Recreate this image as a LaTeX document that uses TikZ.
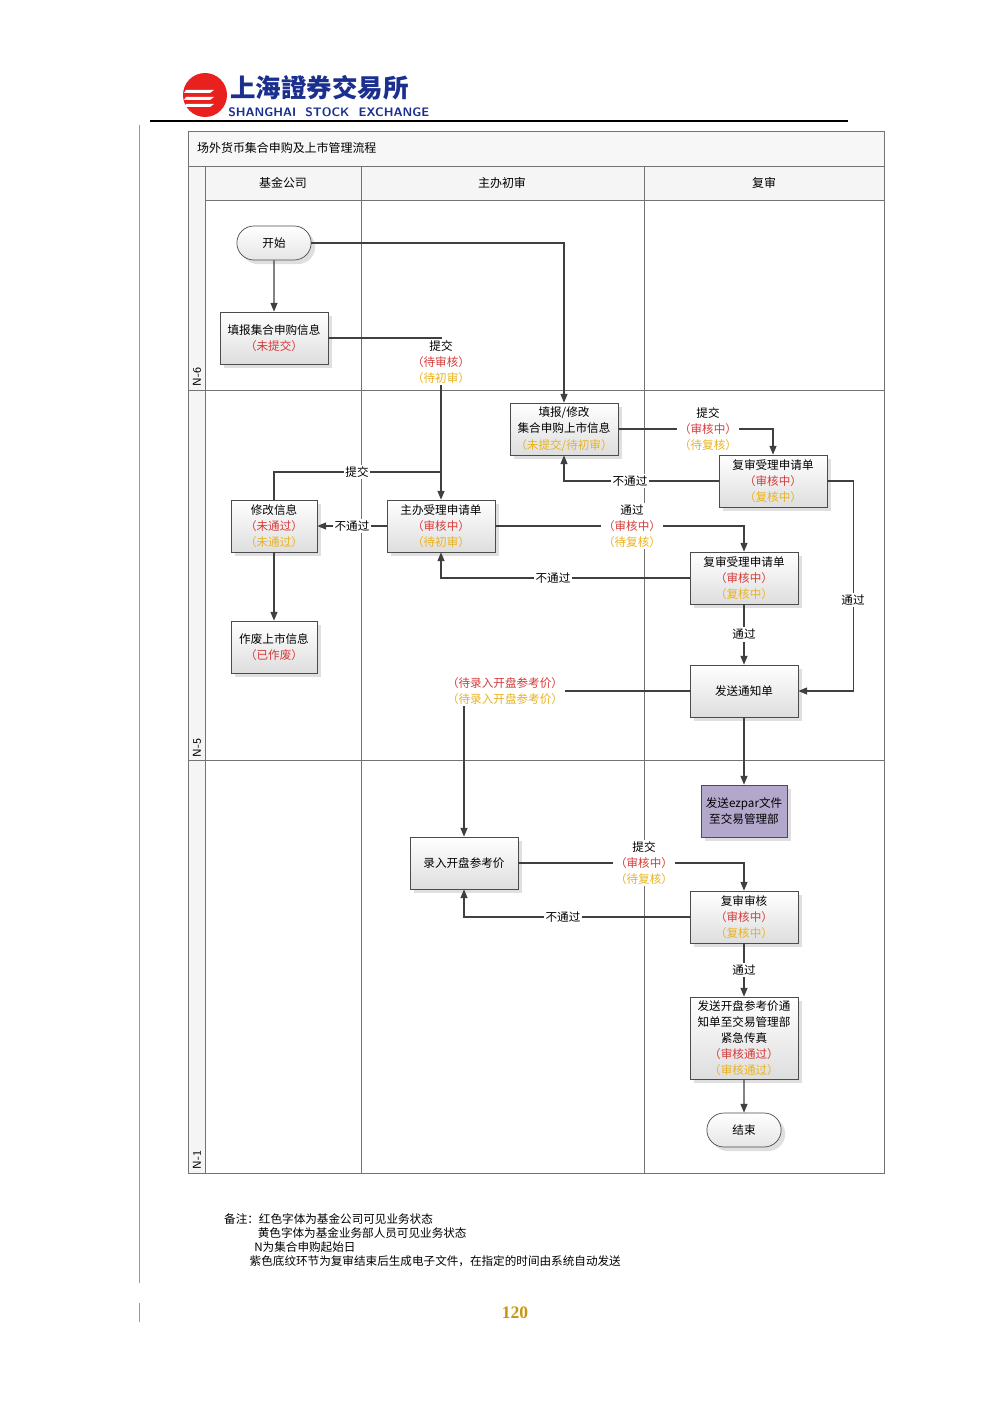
\documentclass[tikz,border=0pt]{standalone}
\usepackage{fontspec}
\setmainfont{Liberation Serif}
\newfontfamily\cjk{Noto Sans CJK SC}
\usepackage{tikz}
\usetikzlibrary{positioning,shadows,shapes.misc,arrows.meta}
\definecolor{stred}{HTML}{D63A3A}
\definecolor{styel}{HTML}{E9B21E}
\definecolor{logored}{HTML}{E8201E}
\definecolor{logoblue}{HTML}{1B2F8F}
\definecolor{ezpurple}{HTML}{B3A8CC}
\definecolor{pagegold}{HTML}{C8960C}
\tikzset{
  proc/.style={draw=black!70, top color=white, bottom color=black!13, minimum width=2.16cm, minimum height=1.04cm,
    align=center, font=\cjk\fontsize{6.6}{9.2}\selectfont, inner sep=1pt, drop shadow={opacity=.25}},
  term/.style={draw=black!70, rounded rectangle, top color=white, bottom color=black!10, minimum width=1.72cm,
    minimum height=.68cm, font=\cjk\fontsize{6.6}{9.2}\selectfont, drop shadow={opacity=.25}},
  lbl/.style={fill=white, inner sep=1pt, align=center, font=\cjk\fontsize{6.6}{9.2}\selectfont},
  lane/.style={draw=black!55, line width=.5pt},
  flow/.style={draw=black!75, line width=.6pt, -{Triangle[length=5pt,width=4pt]}},
}
\newcommand{\rd}[1]{\textcolor{stred}{（#1）}}
\newcommand{\yl}[1]{\textcolor{styel}{（#1）}}

\begin{document}
\begin{tikzpicture}[x=0.02cm, y=-0.02cm]
\useasboundingbox (0,0) rectangle (1000,1415);

% Header with logo
\fill[logored] (205,95) circle (22);
\foreach \yy in {90,97,104} \fill[white] (186,\yy) -- (214,\yy) -- (210,\yy+3) -- (184,\yy+3) -- cycle;
\node[anchor=west, text=logoblue, font=\cjk\bfseries\fontsize{14.5}{15}\selectfont, inner sep=0] (logocn) at (230,88) {上海證券交易所};
\node[anchor=west, text=logoblue, font=\sffamily\bfseries\fontsize{7}{8}\selectfont, inner sep=0] (logoen) at (228,112) {SHANGHAI\ \ STOCK\ \ EXCHANGE};
\draw[line width=1pt] (150,121) -- (848,121);
\draw[black!40] (139,125) -- (139,1283);
\draw[black!40] (139,1303) -- (139,1322);

% Swimlane frame
\draw[lane, fill=black!3] (188,131) rectangle (884,166);
\draw[lane, fill=black!4] (205,166) rectangle (884,200);
\draw[lane, fill=black!4] (188,166) rectangle (205,1173);
\draw[lane] (188,131) rectangle (884,1173);
\draw[lane] (205,200) -- (205,1173);
\draw[lane] (361,166) -- (361,1173);
\draw[lane] (644,166) -- (644,1173);
\draw[lane] (188,390) -- (884,390);
\draw[lane] (188,760) -- (884,760);
\node[anchor=west, font=\cjk\fontsize{6.8}{8}\selectfont] (ttl) at (191,148) {场外货币集合申购及上市管理流程};
\node[font=\cjk\fontsize{6.8}{8}\selectfont] (h1) at (283,183) {基金公司};
\node[font=\cjk\fontsize{6.8}{8}\selectfont] (h2) at (502,183) {主办初审};
\node[font=\cjk\fontsize{6.8}{8}\selectfont] (h3) at (764,183) {复审};
\node[rotate=90, font=\sffamily\fontsize{6.5}{7}\selectfont] (n6) at (197,377) {N-6};
\node[rotate=90, font=\sffamily\fontsize{6.5}{7}\selectfont] (n5) at (197,748) {N-5};
\node[rotate=90, font=\sffamily\fontsize{6.5}{7}\selectfont] (n1) at (197,1160) {N-1};

% Process boxes
\node[term] (start) at (274,243) {开始};
\node[proc] (fillin) at (274,338) {填报集合申购信息\\\rd{未提交}};
\node[proc] (edit) at (564,429) {填报/修改\\集合申购上市信息\\\yl{未提交/待初审}};
\node[proc] (recheckA) at (773,481) {复审受理申请单\\\rd{审核中}\\\yl{复核中}};
\node[proc, minimum width=1.72cm] (modify) at (274,526) {修改信息\\\rd{未通过}\\\yl{未通过}};
\node[proc] (accept) at (441,526) {主办受理申请单\\\rd{审核中}\\\yl{待初审}};
\node[proc] (recheckB) at (744,578) {复审受理申请单\\\rd{审核中}\\\yl{复核中}};
\node[proc, minimum width=1.72cm] (cancel) at (274,647) {作废上市信息\\\rd{已作废}};
\node[proc] (notice) at (744,691) {发送通知单};
\node[proc, minimum width=1.72cm, top color=ezpurple, bottom color=ezpurple] (ezpar) at (744,811) {发送ezpar文件\\至交易管理部};
\node[proc] (price) at (464,863) {录入开盘参考价};
\node[proc] (final) at (744,917) {复审审核\\\rd{审核中}\\\yl{复核中}};
\node[proc, minimum height=1.64cm] (fax) at (744,1038) {发送开盘参考价通\\知单至交易管理部\\紧急传真\\\rd{审核通过}\\\yl{审核通过}};
\node[term] (stop) at (744,1130) {结束};

% Connectors
\draw[flow] (start) -- (fillin);
\draw[flow] (start.east) -| (edit.north);
\draw[flow] (fillin.east) -| (accept.north);
\node[lbl] (l1) at (441,362) {提交\\\rd{待审核}\\\yl{待初审}};
\draw[flow, -] (modify.north) |- (accept.north |- 0,472);
\node[lbl] (l2) at (357,472) {提交};
\draw[flow] (modify) -- (cancel);
\draw[flow] (accept.west) -- node[lbl] (l3) {不通过} (modify.east);
\draw[flow] (accept.east) -| (recheckB.north);
\node[lbl] (l4) at (632,526) {通过\\\rd{审核中}\\\yl{待复核}};
\draw[flow] (edit.east) -| (recheckA.north);
\node[lbl] (l5) at (708,429) {提交\\\rd{审核中}\\\yl{待复核}};
\draw[flow] (recheckA.west) -| (edit.south);
\node[lbl] (l6) at (630,481) {不通过};
\draw[flow] (recheckA.east) -- ++(26,0) |- (notice.east);
\node[lbl] (l7) at (853,600) {通过};
\draw[flow] (recheckB.west) -| (accept.south);
\node[lbl] (l8) at (553,578) {不通过};
\draw[flow] (recheckB) -- node[lbl] (l9) {通过} (notice);
\draw[flow] (notice.west) -| (price.north);
\node[lbl] (l10) at (505,691) {\rd{待录入开盘参考价}\\\yl{待录入开盘参考价}};
\draw[flow] (notice) -- (ezpar);
\draw[flow] (price.east) -| (final.north);
\node[lbl] (l11) at (644,863) {提交\\\rd{审核中}\\\yl{待复核}};
\draw[flow] (final.west) -| (price.south);
\node[lbl] (l12) at (563,917) {不通过};
\draw[flow] (final) -- node[lbl] (l13) {通过} (fax);
\draw[flow] (fax) -- (stop);

% Notes
\node[anchor=north west, align=left, font=\cjk\fontsize{6.6}{8.1}\selectfont] (notes) at (218,1207)
  {备注：红色字体为基金公司可见业务状态\\
  \hspace*{2.9em}黄色字体为基金业务部人员可见业务状态\\
  \hspace*{2.6em}N为集合申购起始日\\
  \hspace*{2.2em}紫色底纹环节为复审结束后生成电子文件，在指定的时间由系统自动发送};
\node[text=pagegold, font=\bfseries\fontsize{10}{10}\selectfont] (page) at (515,1313) {120};
\end{tikzpicture}
\end{document}
